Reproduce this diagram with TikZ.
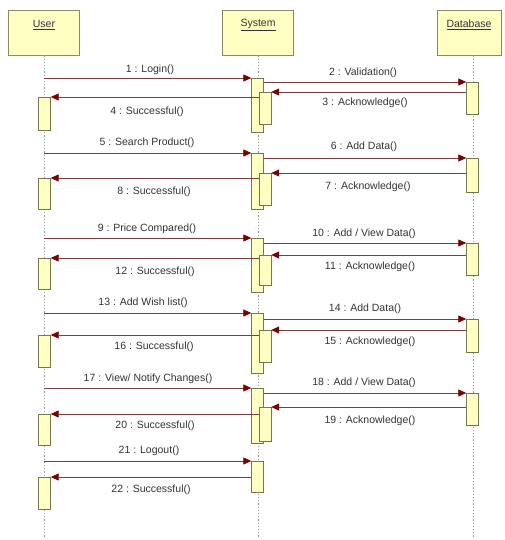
\documentclass[tikz,border=0pt]{standalone}
\usepackage{fontspec}
\setmainfont{Liberation Sans}
\usepackage{tikz}
\usetikzlibrary{arrows.meta,positioning,calc}
\definecolor{seqFill}{HTML}{FFFFC4}
\definecolor{seqEdge}{HTML}{8A8A5C}
\definecolor{seqLine}{HTML}{7A3F3F}
\definecolor{seqHead}{HTML}{780000}
% activation bar: name, x, top, bottom
\newcommand{\actbar}[4]{\node[actbar, minimum height={#4-#3}, anchor=north] (#1) at (#2,#3) {};}

\begin{document}
\begin{tikzpicture}[x=1pt, y=-1pt, font=\fontsize{10.5}{12}\selectfont,
  headbox/.style={draw=seqEdge, fill=seqFill, minimum width=71pt, minimum height=45pt, anchor=north, inner sep=0pt},
  actbar/.style={draw=seqEdge!85!black, fill=seqFill, minimum width=12pt, inner sep=0pt},
  life/.style={gray!80, line width=0.9pt, dash pattern=on 1.2pt off 2pt},
  msg/.style={seqLine, line width=0.8pt, -{Triangle[length=8pt, width=7pt, color=seqHead]}},
  lbl/.style={text=black!80, inner sep=0pt}]
\useasboundingbox (0,0) rectangle (505,540);
% ---------- heads and lifelines ----------
\node[headbox] (userhead) at (44,10) {};
\node[headbox] (syshead) at (258,10) {};
\node[headbox, minimum width=64pt] (dbhead) at (469,10) {};
\node[lbl] (usertxt) at (44,25) {\underline{User}};
\node[lbl] (systxt) at (258,25) {\underline{System}};
\node[lbl] (dbtxt) at (469,25) {\underline{Database}};
\coordinate (userend) at (44,537);
\coordinate (sysend) at (258,537);
\coordinate (dbend) at (473,537);
\draw[life] (userhead.south) -- (userend);
\draw[life] (syshead.south) -- (sysend);
\draw[life] (dbend |- dbhead.south) -- (dbend);
% ---------- activation bars ----------
\actbar{s1}{257.5}{78}{132}  \actbar{n1}{265}{92}{124}
\actbar{d1}{472.5}{82}{114}  \actbar{u1}{44.5}{97}{130}
\actbar{s2}{257.5}{153}{209} \actbar{n2}{265}{173}{205}
\actbar{d2}{472.5}{158}{192} \actbar{u2}{44.5}{178}{209}
\actbar{s3}{257.5}{238}{292} \actbar{n3}{265}{255}{285}
\actbar{d3}{472.5}{243}{275} \actbar{u3}{44.5}{258}{289}
\actbar{s4}{257.5}{313}{373} \actbar{n4}{265}{330}{362}
\actbar{d4}{472.5}{319}{352} \actbar{u4}{44.5}{335}{367}
\actbar{s5}{257.5}{388}{443} \actbar{n5}{265}{407}{441}
\actbar{d5}{472.5}{393}{425} \actbar{u5}{44.5}{414}{445}
\actbar{s6}{257.5}{461}{492} \actbar{u6}{44.5}{477}{509}
% ---------- messages ----------
\draw[msg] (s1.north west -| userend) -- (s1.north west);
\draw[msg] (d1.north west -| s1.east) -- (d1.north west);
\draw[msg] (n1.north east -| d1.west) -- (n1.north east);
\draw[msg] (u1.north east -| n1.west) -- (u1.north east);
\draw[msg] (s2.north west -| userend) -- (s2.north west);
\draw[msg] (d2.north west -| s2.east) -- (d2.north west);
\draw[msg] (n2.north east -| d2.west) -- (n2.north east);
\draw[msg] (u2.north east -| n2.west) -- (u2.north east);
\draw[msg] (s3.north west -| userend) -- (s3.north west);
\draw[msg] (d3.north west -| s3.east) -- (d3.north west);
\draw[msg] (n3.north east -| d3.west) -- (n3.north east);
\draw[msg] (u3.north east -| n3.west) -- (u3.north east);
\draw[msg] (s4.north west -| userend) -- (s4.north west);
\draw[msg] (d4.north west -| s4.east) -- (d4.north west);
\draw[msg] (n4.north east -| d4.west) -- (n4.north east);
\draw[msg] (u4.north east -| n4.west) -- (u4.north east);
\draw[msg] (s5.north west -| userend) -- (s5.north west);
\draw[msg] (d5.north west -| s5.east) -- (d5.north west);
\draw[msg] (n5.north east -| d5.west) -- (n5.north east);
\draw[msg] (u5.north east -| n5.west) -- (u5.north east);
\draw[msg] (s6.north west -| userend) -- (s6.north west);
\draw[msg] (u6.north east -| s6.west) -- (u6.north east);
% ---------- message labels ----------
\node[lbl] (l1) at (150,70) {1 : Login()};
\node[lbl] (l2) at (363,73) {2 : Validation()};
\node[lbl] (l3) at (365,103) {3 : Acknowledge()};
\node[lbl] (l4) at (147,112) {4 : Successful()};
\node[lbl] (l5) at (147,143) {5 : Search Product()};
\node[lbl] (l6) at (364,147) {6 : Add Data()};
\node[lbl] (l7) at (368,187) {7 : Acknowledge()};
\node[lbl] (l8) at (154,192) {8 : Successful()};
\node[lbl] (l9) at (147,229) {9 : Price Compared()};
\node[lbl] (l10) at (364,234) {10 : Add / View Data()};
\node[lbl] (l11) at (370,267) {11 : Acknowledge()};
\node[lbl] (l12) at (155,272) {12 : Successful()};
\node[lbl] (l13) at (143,303) {13 : Add Wish list()};
\node[lbl] (l14) at (365,309) {14 : Add Data()};
\node[lbl] (l15) at (370,342) {15 : Acknowledge()};
\node[lbl] (l16) at (154,347) {16 : Successful()};
\node[lbl] (l17) at (148,379) {17 : View/ Notify Changes()};
\node[lbl] (l18) at (364,383) {18 : Add / View Data()};
\node[lbl] (l19) at (370,421) {19 : Acknowledge()};
\node[lbl] (l20) at (155,426) {20 : Successful()};
\node[lbl] (l21) at (149,451) {21 : Logout()};
\node[lbl] (l22) at (151,490) {22 : Successful()};
\end{tikzpicture}
\end{document}
